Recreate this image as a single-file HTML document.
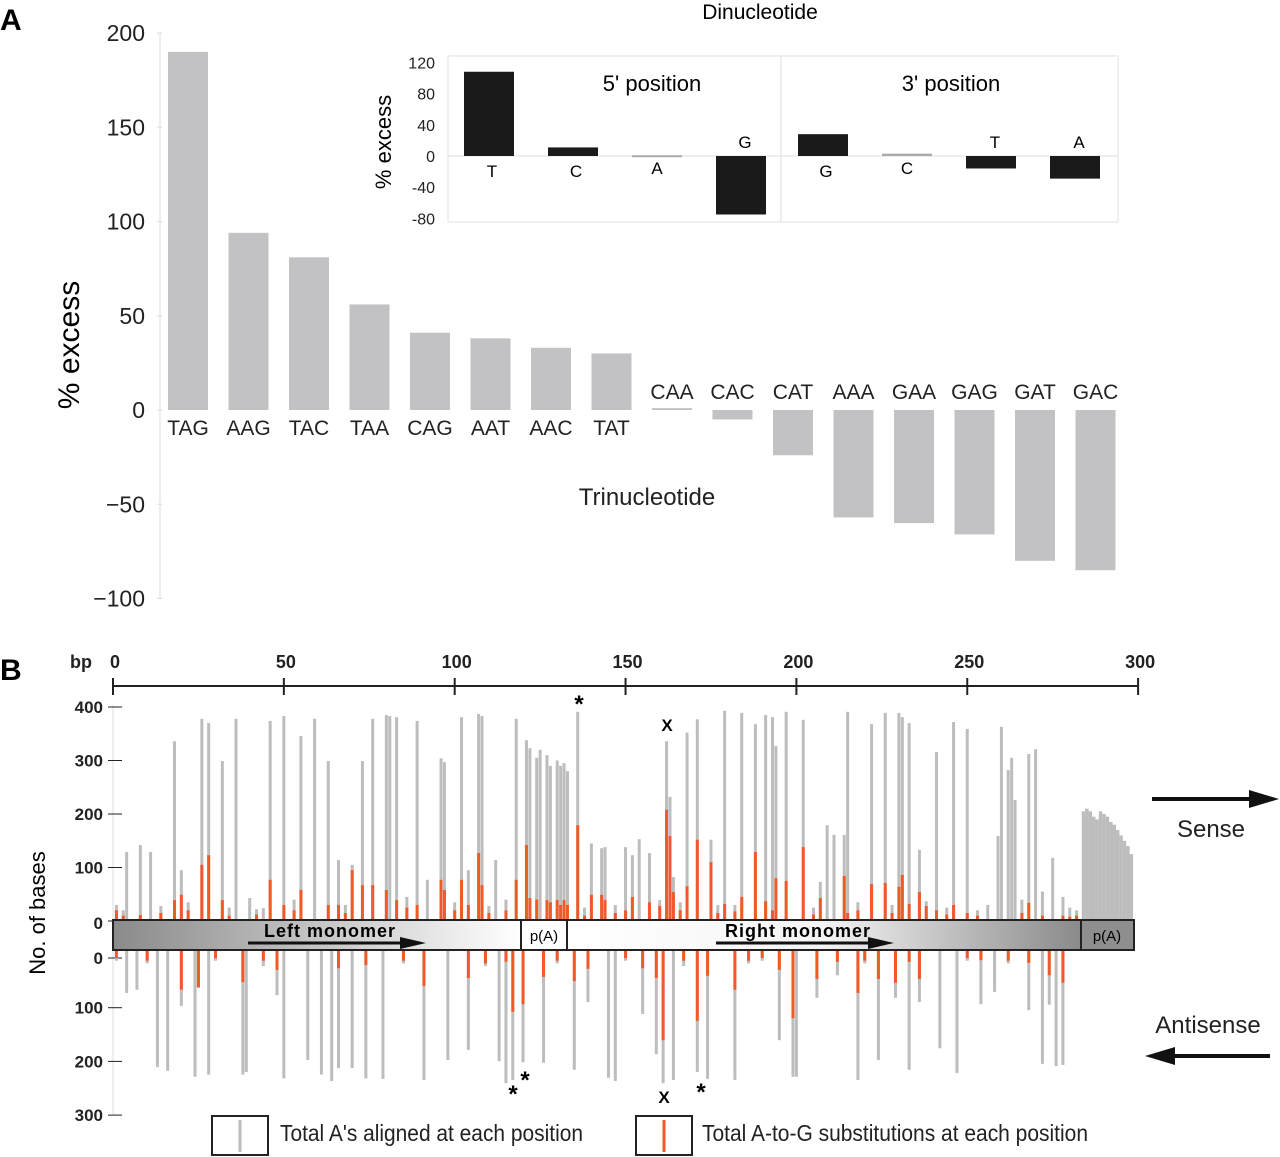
<!DOCTYPE html>
<html><head><meta charset="utf-8"><style>
html,body{margin:0;padding:0;background:#fff}
svg{display:block;font-family:"Liberation Sans",Arial,sans-serif}
</style></head><body>
<svg id="fig" width="1280" height="1157" viewBox="0 0 1280 1157" xmlns="http://www.w3.org/2000/svg">
<defs>
<linearGradient id="gl" x1="0" x2="1" y1="0" y2="0"><stop offset="0" stop-color="#8a8a8a"/><stop offset="1" stop-color="#ffffff"/></linearGradient>
<linearGradient id="gr" x1="0" x2="1" y1="0" y2="0"><stop offset="0" stop-color="#ffffff"/><stop offset="0.5" stop-color="#f4f4f4"/><stop offset="1" stop-color="#8a8a8a"/></linearGradient>
</defs>
<g id="panelA"></g>
<g id="inset"></g>
<g id="panelB"></g>
</svg>
<script>
// ---------- Panel A data ----------
const triCats = ["TAG","AAG","TAC","TAA","CAG","AAT","AAC","TAT","CAA","CAC","CAT","AAA","GAA","GAG","GAT","GAC"];
const triVals = [190,94,81,56,41,38,33,30,1,-5,-24,-57,-60,-66,-80,-85];
const triTicks = [200,150,100,50,0,-50,-100];
const triTickLabels = ["200","150","100","50","0","\u221250","\u2212100"];
// ---------- Inset data ----------
const diCats5 = ["T","C","A","G"];
const diVals5 = [108,11,1,-75];
const diCats3 = ["G","C","T","A"];
const diVals3 = [28,3,-16,-29];
const diTicks = [120,80,40,0,-40,-80];
// ---------- Panel B data ----------
const bpTicks = [0,50,100,150,200,250,300];
const countTicks = [0,100,200,300,400];
const antiTicks = [0,100,200,300];
const sensePos = [1,4,8,11,18,20,26,28,32,36,40,44,46,50,55,59,63,66,70,73,76,80,81,83,89,92,96,97,102,104,107,108,112,118,121,122,124,125,127,128,130,131,132,133,136,140,143,144,150,152,154,157,160,162,163,164,168,171,175,179,184,188,191,193,194,197,202,207,209,211,214,215,222,226,230,231,233,236,238,241,246,250,256,259,260,262,263,264,268,270,275,3,14,22,34,42,53,68,86,100,110,115,138,147,166,177,182,205,218,228,244,253,266,272,278,280,282];
const senseTotal = [30,129,142,129,336,95,378,370,299,378,43,24,374,383,346,378,299,114,105,299,378,385,383,381,374,77,304,297,381,95,387,383,114,378,338,323,305,320,310,290,300,290,295,280,391,145,136,138,138,123,153,127,39,336,232,82,352,377,152,393,389,368,385,381,327,391,376,73,179,161,161,391,368,389,389,381,370,133,37,316,372,359,30,159,363,282,305,226,312,321,118,20,28,35,25,22,40,30,45,35,28,40,25,30,35,30,30,25,35,30,25,20,40,55,45,25,20];
const senseSub = [20,0,11,0,39,49,105,123,39,0,0,0,77,30,58,0,30,30,95,67,67,58,0,39,30,0,77,58,77,30,127,67,0,77,142,43,40,0,39,35,39,30,39,30,179,49,49,39,20,45,0,35,28,208,159,54,65,152,110,32,45,129,37,20,80,75,138,43,0,0,84,15,69,71,64,86,32,54,28,20,30,15,0,0,0,0,0,0,34,0,0,10,15,20,10,12,20,15,25,20,15,20,10,15,20,15,18,12,20,15,12,10,15,10,10,8,10];
const tailPos = [284,285,286,287,288,289,290,291,292,293,294,295,296,297,298];
const tailTotal = [205,210,205,195,190,205,200,195,185,180,170,160,150,140,125];
const antiPos = [4,7,13,16,20,24,25,28,38,39,48,50,57,61,64,66,70,74,79,91,98,104,113,115,117,120,126,135,139,145,147,155,159,161,164,171,174,182,195,199,200,206,212,218,224,229,233,236,242,247,254,258,268,272,274,276,278,1,10,30,44,85,109,130,150,167,186,190,220,250,262];
const antiTotal = [80,74,218,225,104,236,71,232,232,227,84,239,205,232,244,220,220,239,240,242,205,186,207,248,242,209,210,223,97,238,244,119,194,248,242,227,240,242,168,236,236,89,47,242,205,89,223,97,183,229,101,78,112,212,102,216,214,20,25,20,30,25,30,25,20,30,25,20,25,20,25];
const antiSub = [0,0,0,0,74,0,69,0,60,0,37,0,0,0,0,34,0,28,0,67,0,52,0,22,115,101,50,58,35,0,0,34,52,168,0,132,48,74,37,127,0,54,22,80,54,61,22,54,0,0,19,0,24,0,47,0,61,15,20,15,20,20,25,20,15,20,20,15,20,15,20];

const NS="http://www.w3.org/2000/svg";
function mk(parent, tag, attrs, text){
  const el=document.createElementNS(NS,tag);
  for(const k in attrs) el.setAttribute(k,attrs[k]);
  if(text!==undefined) el.textContent=text;
  parent.appendChild(el); return el;
}

// ---------- Panel A ----------
const A=document.getElementById('panelA');
const yA=v=>410-v*1.885;
const xA=i=>188+i*60.5;
let t=mk(A,'text',{x:0,y:30,'font-size':30,'font-weight':'bold'},'A');


let ax=mk(A,'line',{x1:160,y1:yA(200),x2:160,y2:yA(-100),stroke:'#ddd','stroke-width':1});


triTicks.forEach((v,i)=>{
  const tk=mk(A,'line',{x1:157,x2:162,y1:yA(v),y2:yA(v),stroke:'#ddd'});
  
  
  const lb=mk(A,'text',{x:145,y:yA(v)+8,'font-size':23,'text-anchor':'end',fill:'#222'},triTickLabels[i]);
  
  
});
t=mk(A,'text',{x:0,y:0,'font-size':30,'text-anchor':'middle',transform:'translate(79,345) rotate(-90)'},'% excess');


triVals.forEach((v,i)=>{
  const y0=yA(Math.max(v,0)), h=Math.abs(v)*1.885;
  const r=mk(A,'rect',{x:xA(i)-20,y:y0,width:40,height:Math.max(h,1),fill:'#c2c2c4'});
  
  
  const lb=mk(A,'text',{x:xA(i),y:v>=5?435:399,'font-size':21,'text-anchor':'middle',fill:'#222'},triCats[i]);
  
  
});
t=mk(A,'text',{x:647,y:505,'font-size':24,'text-anchor':'middle',fill:'#222'},'Trinucleotide');



// ---------- Inset ----------
const I=document.getElementById('inset');
const yI=v=>156-v*0.78;
let fr=mk(I,'rect',{x:448,y:56,width:670,height:166,fill:'#fff',stroke:'#e2e2e2'});


let dv=mk(I,'line',{x1:781,x2:781,y1:56,y2:222,stroke:'#ddd'});


let zl=mk(I,'line',{x1:448,x2:1118,y1:yI(0),y2:yI(0),stroke:'#ddd'});


diTicks.forEach(v=>{
  const lb=mk(I,'text',{x:435,y:yI(v)+6,'font-size':16,'text-anchor':'end',fill:'#222'},String(v));
  
  
});
t=mk(I,'text',{x:0,y:0,'font-size':22,'text-anchor':'middle',transform:'translate(391,142) rotate(-90)'},'% excess');


t=mk(I,'text',{x:760,y:19,'font-size':21,'text-anchor':'middle'},'Dinucleotide');


t=mk(I,'text',{x:652,y:91,'font-size':22,'text-anchor':'middle'},"5' position");


t=mk(I,'text',{x:951,y:91,'font-size':22,'text-anchor':'middle'},"3' position");


function insetBars(cats,vals,x0,prefix){
  vals.forEach((v,i)=>{
    const cx=x0+i*84;
    const small=Math.abs(v)<5;
    const r=mk(I,'rect',{x:cx-25,y:yI(Math.max(v,0)),width:50,height:Math.max(Math.abs(v)*0.78,small?2:1),fill:small?'#aaa':'#1a1a1a'});
    
    
    const lb=mk(I,'text',{x:cx-(v<-5?-4:0)+(v>5?3:0),y:v>=-5?(small?174:177):148,'font-size':17,'text-anchor':'middle'},cats[i]);
    
    
  });
}
insetBars(diCats5,diVals5,489,'five-prime');
insetBars(diCats3,diVals3,823,'three-prime');

// ---------- Panel B ----------
const B=document.getElementById('panelB');
const xB=bp=>113+bp*3.417;
const yS=v=>921-v*0.535;
const yAS=v=>950+v*0.537;
t=mk(B,'text',{x:0,y:680,'font-size':30,'font-weight':'bold'},'B');


t=mk(B,'text',{x:70,y:668,'font-size':18,'font-weight':'bold',fill:'#222'},'bp');


let rl=mk(B,'line',{x1:xB(0),x2:xB(300),y1:686,y2:686,stroke:'#222','stroke-width':2});


bpTicks.forEach(v=>{
  const tk=mk(B,'line',{x1:xB(v),x2:xB(v),y1:678,y2:695,stroke:'#222','stroke-width':2});
  
  
  const lb=mk(B,'text',{x:xB(v)+2,y:668,'font-size':18,'font-weight':'bold','text-anchor':'middle',fill:'#222'},String(v));
  
  
});
let la=mk(B,'line',{x1:113,x2:113,y1:705,y2:1115,stroke:'#ddd'});


countTicks.forEach(v=>{
  const tk=mk(B,'line',{x1:108,x2:122,y1:yS(v),y2:yS(v),stroke:'#222'});
  
  
  const lb=mk(B,'text',{x:103,y:yS(v)+6+(v==0?2:0),'font-size':17,'font-weight':'bold','text-anchor':'end',fill:'#222'},String(v));
  
  
});
antiTicks.forEach(v=>{
  const tk=mk(B,'line',{x1:108,x2:122,y1:yAS(v)+(v==0?8:4),y2:yAS(v)+(v==0?8:4),stroke:'#222'});
  
  
  const lb=mk(B,'text',{x:103,y:yAS(v)+(v==0?14:10),'font-size':17,'font-weight':'bold','text-anchor':'end',fill:'#222'},String(v));
  
  
});
t=mk(B,'text',{x:0,y:0,'font-size':22,'text-anchor':'middle',transform:'translate(45,913) rotate(-90)'},'No. of bases');


// sense bars
sensePos.forEach((p,i)=>{
  const g=mk(B,'rect',{x:xB(p)-1.5,y:yS(senseTotal[i]),width:3,height:senseTotal[i]*0.535,fill:'#bdbdbd'});
  
  
  if(senseSub[i]>0){
    const r=mk(B,'rect',{x:xB(p)-1.5,y:yS(senseSub[i]),width:3,height:senseSub[i]*0.535,fill:'#f05a28'});
    
    
  }
});
tailPos.forEach((p,i)=>{
  const g=mk(B,'rect',{x:xB(p)-1.7,y:yS(tailTotal[i]),width:3.5,height:tailTotal[i]*0.535,fill:'#bdbdbd'});
  
  
});
antiPos.forEach((p,i)=>{
  const g=mk(B,'rect',{x:xB(p)-1.5,y:yAS(0),width:3,height:antiTotal[i]*0.537,fill:'#bdbdbd'});
  
  
  if(antiSub[i]>0){
    const r=mk(B,'rect',{x:xB(p)-1.5,y:yAS(0),width:3,height:antiSub[i]*0.537,fill:'#f05a28'});
    
    
  }
});
// monomer bar
let m1=mk(B,'rect',{x:113,y:920,width:408,height:30,fill:'url(#gl)',stroke:'#222','stroke-width':2});


let m2=mk(B,'rect',{x:521,y:920,width:46,height:30,fill:'#fff',stroke:'#222','stroke-width':2});


let m3=mk(B,'rect',{x:567,y:920,width:514,height:30,fill:'url(#gr)',stroke:'#222','stroke-width':2});


let m4=mk(B,'rect',{x:1081,y:920,width:53,height:30,fill:'#8e8e8e',stroke:'#222','stroke-width':2});


t=mk(B,'text',{x:544,y:941,'font-size':15,'text-anchor':'middle'},'p(A)');


t=mk(B,'text',{x:1107,y:941,'font-size':15,'text-anchor':'middle'},'p(A)');


t=mk(B,'text',{x:330,y:937,'font-size':18,'font-weight':'bold','text-anchor':'middle','letter-spacing':'1'},'Left monomer');


t=mk(B,'text',{x:798,y:937,'font-size':18,'font-weight':'bold','text-anchor':'middle','letter-spacing':'1'},'Right monomer');


function arrow(x1,x2,y,w,hl,hw,name){
  const dir=x2>x1?1:-1;
  const l=mk(B,'line',{x1:x1,x2:x2-dir*hl,y1:y,y2:y,stroke:'#111','stroke-width':w});
  
  
  const p=mk(B,'polygon',{points:`${x2},${y} ${x2-dir*hl},${y-hw} ${x2-dir*hl},${y+hw}`,fill:'#111'});
  
  
}
arrow(248,426,943,3,26,6,'left-monomer-arrow');
arrow(716,894,943,3,26,6,'right-monomer-arrow');
arrow(1152,1279,799,4,30,9,'sense-arrow');
arrow(1270,1145,1056,4,30,9,'antisense-arrow');
t=mk(B,'text',{x:1211,y:837,'font-size':24,'text-anchor':'middle',fill:'#222'},'Sense');


t=mk(B,'text',{x:1208,y:1033,'font-size':24,'text-anchor':'middle',fill:'#222'},'Antisense');


[[579,712,'*',24],[667,731,'X',17],[513,1102,'*',24],[525,1088,'*',24],[664,1103,'X',17],[701,1100,'*',24]].forEach(a=>{
  const m=mk(B,'text',{x:a[0],y:a[1],'font-size':a[3],'font-weight':'bold','text-anchor':'middle'},a[2]);
  
  
});
// legend
let lg1=mk(B,'rect',{x:212,y:1116,width:56,height:39,fill:'#fff',stroke:'#222','stroke-width':2});


mk(B,'line',{x1:240,x2:240,y1:1120,y2:1152,stroke:'#bdbdbd','stroke-width':3});
t=mk(B,'text',{x:280,y:1141,'font-size':23,textLength:303,lengthAdjust:'spacingAndGlyphs',fill:'#222'},"Total A's aligned at each position");


let lg2=mk(B,'rect',{x:636,y:1116,width:56,height:39,fill:'#fff',stroke:'#222','stroke-width':2});


mk(B,'line',{x1:664,x2:664,y1:1120,y2:1152,stroke:'#f05a28','stroke-width':3});
t=mk(B,'text',{x:702,y:1141,'font-size':23,textLength:386,lengthAdjust:'spacingAndGlyphs',fill:'#222'},'Total A-to-G substitutions at each position');


</script>
</body></html>
